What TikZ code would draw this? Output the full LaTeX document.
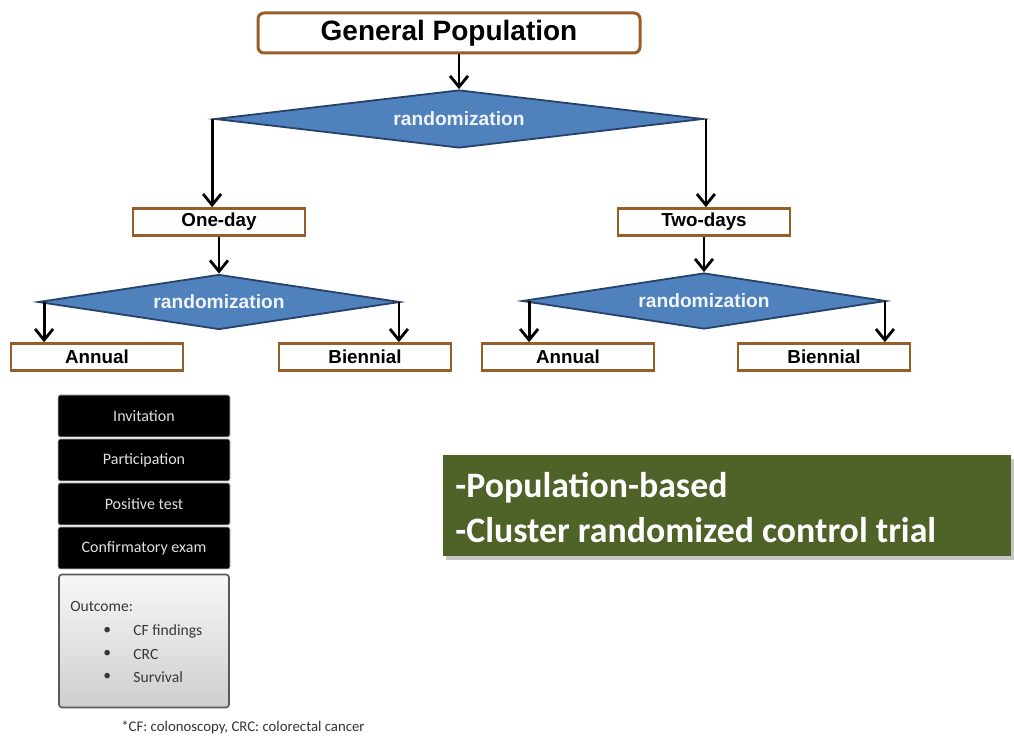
\documentclass[tikz,border=0pt]{standalone}
\usepackage{fontspec}
\setmainfont{Liberation Sans}
\newfontfamily\calibfont{Carlito}
\usepackage{tikz}
\usetikzlibrary{shapes.geometric,arrows.meta,shadows,positioning}
\definecolor{boxbrown}{RGB}{152,94,42}
\definecolor{diafill}{RGB}{79,129,189}
\definecolor{diaedge}{RGB}{38,66,104}
\definecolor{olivebox}{RGB}{79,98,40}
\definecolor{outgray}{RGB}{89,89,89}

\begin{document}
\begin{tikzpicture}[x=0.5pt,y=-0.5pt,
    armbox/.style={draw=boxbrown,line width=1.3pt,fill=white,inner sep=0pt,minimum width=86pt,minimum height=13.5pt,font=\fontsize{9.4}{11}\selectfont\bfseries},
    randdia/.style={diamond,aspect=8,draw=diaedge,line width=0.9pt,fill=diafill,inner sep=0pt,text=white!92!diafill,font=\fontsize{9.6}{11}\selectfont\bfseries},
    flowarrow/.style={line width=1.4pt,-{Straight Barb[length=5.5pt,width=9pt]}},
    stepbox/.style={fill=black,draw=gray!45,line width=0.4pt,rounded corners=1pt,minimum width=86pt,minimum height=21pt,inner sep=0pt,text=gray!25,font=\calibfont\fontsize{8}{9}\selectfont},
    outtext/.style={anchor=west,inner sep=0pt,text=black!78,font=\calibfont\fontsize{7.8}{9}\selectfont}]
        \useasboundingbox (0,0) rectangle (1014,737);
        % top of the flow
        \node[armbox,rounded corners=3pt,line width=1.5pt,minimum width=191pt,minimum height=20pt,font=\fontsize{14}{16}\selectfont\bfseries] (gp) at (449,33) {General Population};
        \node[randdia,minimum width=244pt,minimum height=29pt] (d1) at (459,119) {randomization};
        % first split
        \node[armbox] (oneday) at (219,222) {One-day};
        \node[armbox] (twodays) at (704,222) {Two-days};
        \node[randdia,minimum width=181pt,minimum height=27.5pt] (d2) at (219,302) {randomization};
        \node[randdia,minimum width=182pt,minimum height=28pt] (d3) at (704,301) {randomization};
        % arms
        \node[armbox] (annualA) at (97,357) {Annual};
        \node[armbox] (biennialA) at (365,357) {Biennial};
        \node[armbox] (annualB) at (568,357) {Annual};
        \node[armbox] (biennialB) at (824,357) {Biennial};
        % arrows
        \draw[flowarrow] (d1.north |- gp.south) -- (d1.north);
        \draw[flowarrow] ([xshift=-1pt]d1.west) -- ([xshift=-1pt]d1.west |- oneday.north);
        \draw[flowarrow] ([xshift=1pt]d1.east) -- ([xshift=1pt]d1.east |- twodays.north);
        \draw[flowarrow] (oneday.south) -- (d2.north);
        \draw[flowarrow] (twodays.south) -- (d3.north);
        \draw[flowarrow] ([xshift=3.5pt]d2.west) -- ([xshift=3.5pt]d2.west |- annualA.north);
        \draw[flowarrow] ([xshift=-1pt]d2.east) -- ([xshift=-1pt]d2.east |- biennialA.north);
        \draw[flowarrow] ([xshift=4pt]d3.west) -- ([xshift=4pt]d3.west |- annualB.north);
        \draw[flowarrow] ([xshift=-1pt]d3.east) -- ([xshift=-1pt]d3.east |- biennialB.north);
        % steps of the screening
        \node[stepbox] (invite) at (144,416) {Invitation};
        \node[stepbox] (partic) at (144,460) {Participation};
        \node[stepbox] (postest) at (144,504) {Positive test};
        \node[stepbox] (confirm) at (144,548) {Confirmatory exam};
        \node[draw=outgray,line width=0.8pt,rounded corners=1.5pt,top color=gray!6,bottom color=gray!38,minimum width=85pt,minimum height=66.5pt,inner sep=0pt] (outbox) at (144,641) {};
        \node[outtext] (outcome) at (70,607) {Outcome:};
        \node[outtext] (bul1) at (103,631) {\textbullet};
        \node[outtext] (bul2) at (103,654) {\textbullet};
        \node[outtext] (bul3) at (103,677) {\textbullet};
        \node[outtext] (cff) at (133,631) {CF findings};
        \node[outtext] (crc) at (133,654) {CRC};
        \node[outtext] (surv) at (133,677) {Survival};
        \node[inner sep=0pt,text=black!80,font=\calibfont\fontsize{7.4}{8}\selectfont] (foot) at (243,727) {*CF: colonoscopy, CRC: colorectal cancer};
        % design note
        \node[fill=olivebox,drop shadow={opacity=0.45,shadow xshift=1.5pt,shadow yshift=-2pt},minimum width=284pt,minimum height=50.5pt,inner sep=0pt] (design) at (727,506) {};
        \node[anchor=west,inner sep=0pt,text=white,font=\calibfont\bfseries\fontsize{17.9}{20}\selectfont] (popbased) at (455,488) {-Population-based};
        \node[anchor=west,inner sep=0pt,text=white,font=\calibfont\bfseries\fontsize{17.9}{20}\selectfont] (cluster) at (455,530) {-Cluster randomized control trial};
\end{tikzpicture}
\end{document}
